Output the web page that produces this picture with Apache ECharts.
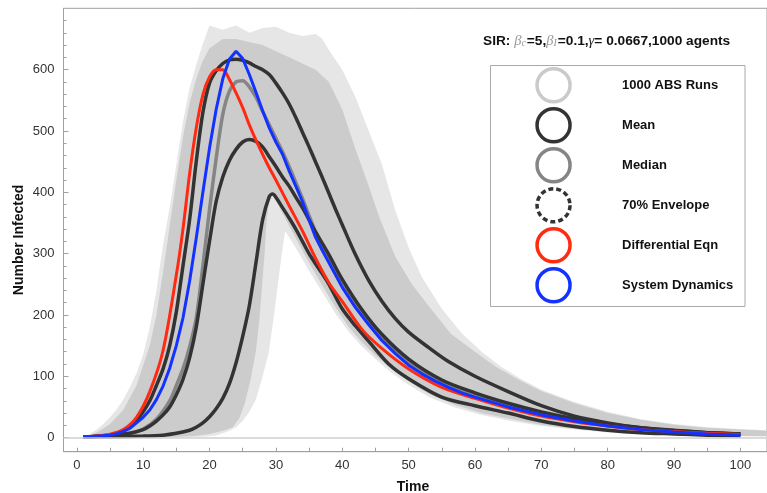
<!DOCTYPE html>
<html>
<head>
<meta charset="utf-8">
<script src="https://cdn.jsdelivr.net/npm/echarts@6/dist/echarts.min.js"></script>
<style>
  html, body { margin: 0; padding: 0; background: #fff; }
  #chart { width: 767px; height: 493px; }
</style>
</head>
<body>
<div id="chart"></div>
<script>
// x ticks / labels
const xTicks = [0, 5, 10, 15, 20, 25, 30, 35, 40, 45, 50, 55, 60, 65, 70, 75, 80, 85, 90, 95, 100]
const xLabels = [0, 10, 20, 30, 40, 50, 60, 70, 80, 90, 100]
const yLabels = [0, 100, 200, 300, 400, 500, 600]
const yMinorTicks = [20, 40, 60, 80, 120, 140, 160, 180, 220, 240, 260, 280, 320, 340, 360, 380,
  420, 440, 460, 480, 520, 540, 560, 580, 620, 640, 660, 680]

// ABS runs: outer extent of all runs
const outUpT = [1, 2, 3, 4, 5, 6, 7, 8, 9, 10, 11, 12, 13, 14, 15, 16, 17, 18, 19, 20, 22, 24, 26, 28, 30, 32, 34, 36, 37, 38, 40, 42, 44, 46, 48, 50, 52, 55, 58, 61, 64, 67, 70, 75, 80, 85, 90, 95, 100, 104]
const outUpV = [2, 6, 13, 22, 33, 46, 62, 82, 105, 135, 180, 240, 315, 375, 445, 515, 570, 608, 642, 672, 665, 672, 660, 668, 670, 660, 655, 658, 650, 632, 600, 555, 500, 445, 370, 310, 262, 210, 170, 140, 115, 95, 78, 58, 42, 30, 22, 17, 14, 12]
const outLoT = [1, 15, 18, 20, 21, 22, 23, 24, 25, 26, 27, 28, 28.9, 29.6, 30.3, 30.9, 31.4, 32.5, 33.5, 35, 37, 39, 41, 43, 45, 47.5, 50, 53, 57, 61, 65, 70, 75, 80, 85, 90, 95, 100, 104]
const outLoV = [0.5, 0.5, 1, 2, 4, 7, 11, 17, 27, 42, 62, 100, 137, 190, 250, 300, 337, 318, 300, 272, 237, 202, 172, 148, 128, 105, 86, 66, 49, 37, 28, 19, 13, 8.5, 6, 4, 3, 2, 2]
// ABS runs: dense core
const denUpT = [1, 3, 5, 7, 9, 11, 12, 13, 14, 15, 16, 17, 18, 19, 20, 22, 24, 26, 28, 30, 32, 34, 36, 38, 40, 42, 44, 45.6, 48, 50.5, 53, 56.4, 60, 63.2, 67, 70, 75, 80, 85, 90, 95, 100, 104]
const denUpV = [1.5, 8, 22, 45, 85, 150, 200, 270, 345, 420, 490, 545, 585, 615, 635, 650, 650, 645, 640, 630, 620, 610, 600, 580, 535, 470, 410, 359, 295, 250, 215, 169, 140, 115, 92, 76, 56, 40, 29, 21, 16, 13, 11]
const denLoT = [1, 15, 18, 20, 22, 23.5, 24.5, 25.3, 26.2, 27, 27.5, 27.9, 28.3, 28.6, 29, 29.5, 30, 31, 32, 33.5, 35, 37, 39, 41, 43, 45, 47.5, 50, 53, 57, 61, 65, 70, 75, 80, 85, 90, 95, 100, 104]
const denLoV = [0.5, 1, 3, 6, 11, 17, 32, 55, 95, 142, 190, 245, 300, 353, 385, 394, 386, 366, 345, 315, 285, 248, 212, 180, 155, 134, 111, 92, 71, 53, 40, 31, 21, 14, 9.5, 6.5, 4.5, 3.2, 2.5, 2]

// mean of runs
const meanT = [1, 5, 8, 10, 11, 12, 13, 14, 15, 16, 17, 18, 19, 20, 21, 22, 23, 24, 25, 26, 27, 28, 29, 30, 31, 32, 33, 34, 35, 36, 38, 40, 43, 46, 50, 55, 60, 65, 70, 75, 80, 85, 90, 95, 100]
const meanV = [1, 3, 7, 13, 19, 27, 37, 50, 70, 95, 130, 180, 250, 320, 385, 425, 452, 470, 482, 486, 483, 474, 458, 442, 425, 410, 392, 375, 355, 335, 298, 258, 208, 168, 128, 94, 73, 56, 42, 31, 22, 16, 12, 8, 6]
// median of runs
const medT = [1, 5, 8, 10, 12, 14, 15, 16, 17, 18, 19, 20, 21, 22, 23, 24, 25, 26, 27, 28, 29, 30, 31, 32, 33, 34, 35, 36, 38, 40, 43, 46, 50, 55, 60, 65, 70, 75, 80, 85, 90, 95, 100]
const medV = [1, 3, 7, 14, 30, 60, 85, 112, 148, 195, 280, 372, 455, 527, 565, 580, 582, 572, 555, 532, 510, 488, 466, 442, 416, 390, 362, 335, 292, 252, 202, 163, 123, 90, 70, 53, 40, 29, 21, 15, 11, 8, 6]
// 70% envelope, upper and lower
const envHiT = [1, 4, 6, 8, 9, 10, 11, 12, 13, 14, 15, 16, 17, 18, 19, 20, 21, 22, 23, 24, 25, 26, 27, 28, 29, 30, 31, 32, 33, 34, 35, 36, 37, 38, 39, 40, 42, 44, 46, 48, 50, 53, 56, 60, 65, 70, 75, 80, 85, 90, 95, 100]
const envHiV = [1, 3, 6, 17, 28, 42, 60, 85, 112, 150, 205, 280, 355, 450, 530, 578, 598, 610, 616, 617, 615, 611, 605, 600, 592, 578, 562, 544, 522, 498, 474, 449, 424, 398, 372, 347, 298, 256, 222, 194, 172, 147, 124, 100, 75, 52, 35, 24, 16, 11, 8, 6]
const envLoT = [1, 5, 10, 13, 15, 17, 18, 19, 20, 21, 22, 23, 24, 25, 26, 27, 28, 29, 29.5, 30, 31, 32, 33, 34, 35, 36, 37, 38, 40, 42, 44, 47, 50, 55, 60, 65, 70, 75, 80, 85, 90, 95, 100]
const envLoV = [1, 1.5, 2.5, 4, 7, 12, 17, 24, 34, 47, 64, 88, 122, 165, 215, 285, 355, 393, 397, 392, 375, 358, 340, 320, 300, 283, 267, 250, 210, 182, 157, 120, 96, 66, 52, 40, 27, 18, 12, 8, 6, 4, 3]
// differential equation
const odeT = [1, 3, 5, 7, 9, 11, 13, 15, 16, 17, 18, 19, 20, 21, 22, 23, 24, 25, 26, 27, 28, 29, 30, 32, 34, 36, 38, 40, 43, 46, 50, 55, 60, 65, 70, 75, 80, 85, 90, 95, 100]
const odeV = [1, 2.5, 5.5, 13, 33, 75, 142, 265, 340, 430, 505, 559, 588, 600, 600, 584, 562, 538, 510, 485, 462, 440, 420, 378, 337, 292, 252, 222, 176, 145, 112, 82, 64, 48, 35, 26, 19, 13, 10, 7, 5]
// system dynamics
const sdT = [1, 2, 3, 4, 5, 6, 7, 8, 9, 10, 11, 12, 13, 14, 15, 16, 17, 18, 19, 20, 21, 22, 23, 24, 25, 26, 27, 28, 29, 30, 31, 32, 33, 34, 35, 36, 37, 38, 39, 40, 42, 44, 46, 48, 50, 52, 54, 56, 58, 60, 65, 70, 75, 80, 85, 90, 95, 100]
const sdV = [1, 1.5, 2, 3, 4, 6.5, 10, 15, 24, 33, 45, 62, 84, 113, 150, 195, 255, 325, 400, 472, 535, 585, 617, 630, 618, 592, 563, 533, 505, 482, 462, 435, 410, 385, 355, 326, 305, 285, 265, 245, 212, 184, 158, 137, 118, 104, 92, 82, 73, 66, 50, 37, 27, 19, 13, 9, 6, 4]

const FONT = '"Liberation Sans", Arial, Helvetica, sans-serif'

function pairs(ts, vs) {
  return ts.map((t, i) => [t, vs[i]])
}

function band(upT, upV, loT, loV, color) {
  return function (params, api) {
    let pts = []
    for (let i = 0; i < upT.length; i++) pts.push(api.coord([upT[i], upV[i]]))
    for (let i = loT.length - 1; i >= 0; i--) pts.push(api.coord([loT[i], loV[i]]))
    return { type: 'polygon', shape: { points: pts }, style: { fill: color } }
  }
}

function curve(name, ts, vs, color, width, smooth) {
  return {
    name: name,
    type: 'line',
    data: pairs(ts, vs),
    showSymbol: false,
    symbol: 'none',
    smooth: smooth,
    lineStyle: { color: color, width: width },
    itemStyle: { color: color },
    silent: true
  }
}

function ring(name, color, type) {
  return {
    name: name,
    icon: 'circle',
    itemStyle: { color: 'rgba(0,0,0,0)', borderColor: color, borderWidth: 3.5, borderType: type || 'solid' }
  }
}

{
  let view = document.getElementById('chart')
  let chart = echarts.init(view)
  let medianLine = curve('Median', medT, medV, '#858585', 3.5, 0.3)
  medianLine.markLine = {
    silent: true,
    symbol: 'none',
    label: { show: false },
    lineStyle: { color: '#cfcfcf', width: 1.5, type: 'solid' },
    data: [{ yAxis: 0 }]
  }
  let option = {
    animation: false,
    grid: { left: 63.5, top: 8.3, width: 719.7, height: 443.4, show: true, borderColor: '#a0a0a0', borderWidth: 1 },
    xAxis: {
      type: 'value', min: -2, max: 104,
      axisLine: { show: true, onZero: false, lineStyle: { color: '#a0a0a0' } },
      axisTick: { show: true, inside: true, length: 4, customValues: xTicks, lineStyle: { color: '#a0a0a0' } },
      axisLabel: { customValues: xLabels, color: '#333', fontSize: 13, fontFamily: FONT, margin: 7 },
      splitLine: { show: false }
    },
    yAxis: [{
      type: 'value', min: -23, max: 700,
      axisLine: { show: true, onZero: false, lineStyle: { color: '#a0a0a0' } },
      axisTick: { show: true, inside: true, length: 5, customValues: yLabels, lineStyle: { color: '#a0a0a0' } },
      axisLabel: { customValues: yLabels, color: '#333', fontSize: 13, fontFamily: FONT, margin: 9 },
      splitLine: { show: false }
    }, {
      type: 'value', min: -23, max: 700, position: 'left',
      axisLine: { show: false, onZero: false },
      axisTick: { show: true, inside: true, length: 3, customValues: yMinorTicks, lineStyle: { color: '#a0a0a0' } },
      axisLabel: { show: false },
      splitLine: { show: false }
    }],
    legend: {
      orient: 'vertical', left: 535.3, top: 67, z: 10, padding: 0,
      itemWidth: 33, itemHeight: 33, itemGap: 3.5,
      selectedMode: false,
      textStyle: { color: '#111', fontSize: 13, fontWeight: 'bold', fontFamily: FONT, padding: [0, 0, 0, 47] },
      data: [
        ring('1000 ABS Runs', '#cacaca'),
        ring('Mean', '#333333'),
        ring('Median', '#858585'),
        ring('70% Envelope', '#333333', [5, 3]),
        ring('Differential Eqn', '#ff2a12'),
        ring('System Dynamics', '#1432ff')
      ]
    },
    graphic: [
      { type: 'rect', z: 5, shape: { x: 490.5, y: 65.5, width: 254.5, height: 241 },
        style: { fill: '#fff', stroke: '#aaaaaa', lineWidth: 1 } },
      { type: 'text', z: 5, x: 483, y: 41,
        style: {
          text: '{b|SIR: }{g|β}{s|c}{b|=5,}{g|β}{s|I}{b|=0.1,}{y|γ}{b|= 0.0667,1000 agents}',
          verticalAlign: 'middle',
          rich: {
            b: { fontFamily: FONT, fontWeight: 'bold', fontSize: 13.7, fill: '#111' },
            g: { fontFamily: '"Liberation Serif", serif', fontStyle: 'italic', fontSize: 14.5, fill: '#999' },
            s: { fontFamily: '"Liberation Serif", serif', fontStyle: 'italic', fontSize: 10, fill: '#999', padding: [5, 1, 0, 0] },
            y: { fontFamily: '"Liberation Serif", serif', fontStyle: 'italic', fontSize: 14.5, fill: '#222' }
          }
        } },
      { type: 'text', z: 5, x: 413, y: 487,
        style: { text: 'Time', fontFamily: FONT, fontWeight: 'bold', fontSize: 14, fill: '#111', align: 'center', verticalAlign: 'middle' } },
      { type: 'text', z: 5, x: 19, y: 240, rotation: Math.PI / 2,
        style: { text: 'Number Infected', fontFamily: FONT, fontWeight: 'bold', fontSize: 14, fill: '#111', align: 'center', verticalAlign: 'middle' } }
    ],
    series: [
      { name: '1000 ABS Runs', type: 'custom', clip: true, silent: true, itemStyle: { color: '#cacaca' },
        renderItem: band(outUpT, outUpV, outLoT, outLoV, '#e6e6e6'), data: [[0, 0]] },
      { name: '1000 ABS Runs', type: 'custom', clip: true, silent: true, itemStyle: { color: '#cacaca' },
        renderItem: band(denUpT, denUpV, denLoT, denLoV, '#cccccc'), data: [[0, 0]] },
      medianLine,
      curve('70% Envelope', envLoT, envLoV, '#333333', 3.5, 0.3),
      curve('Mean', meanT, meanV, '#333333', 3.5, 0.3),
      curve('70% Envelope', envHiT, envHiV, '#333333', 3.5, 0.3),
      curve('Differential Eqn', odeT, odeV, '#ff2a12', 3, 0.3),
      curve('System Dynamics', sdT, sdV, '#1432ff', 3, false)
    ]
  }
  chart.setOption(option)
}
</script>
</body>
</html>
